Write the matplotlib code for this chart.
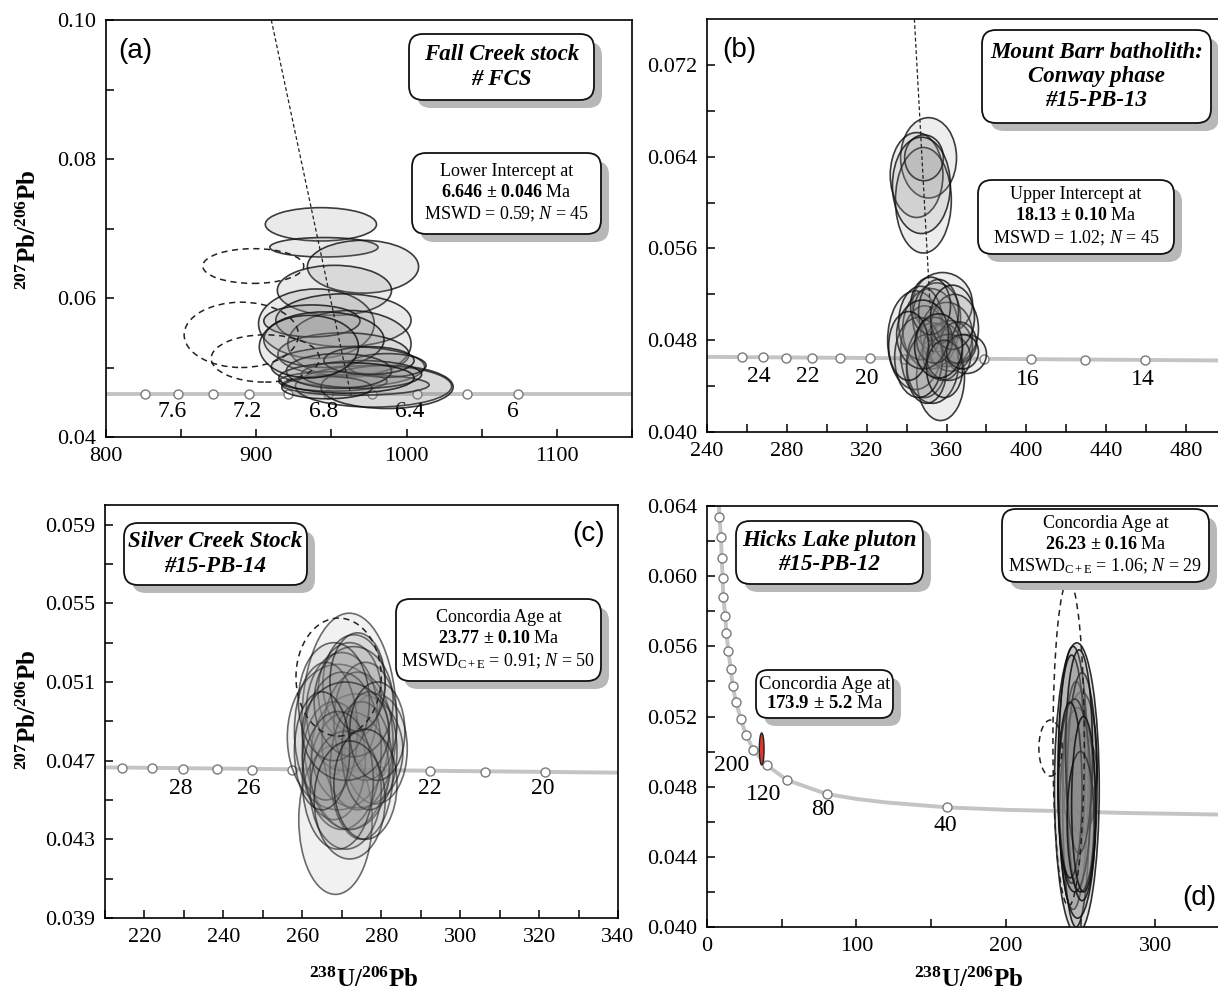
import matplotlib
matplotlib.use("Agg")
import matplotlib.pyplot as plt
from matplotlib.patches import Ellipse, FancyBboxPatch
from matplotlib.ticker import MultipleLocator, FixedLocator, FormatStrFormatter
from matplotlib.transforms import IdentityTransform

plt.rcParams['font.family'] = 'Liberation Serif'
plt.rcParams['mathtext.fontset'] = 'custom'
plt.rcParams['mathtext.rm'] = 'Liberation Serif'
plt.rcParams['mathtext.it'] = 'Liberation Serif:italic'
plt.rcParams['mathtext.bf'] = 'Liberation Serif:bold'

W, H = 1218, 994

# ---------------- (a) Fall Creek stock ----------------
a_conc_x = [800, 1150]
a_conc_y = [0.0462, 0.0462]
a_mark_x = [826, 848, 871, 895, 921, 948, 977, 1007, 1040, 1074]
a_mark_y = [0.0462, 0.0462, 0.0462, 0.0462, 0.0462, 0.0462, 0.0462, 0.0462, 0.0462, 0.0462]
a_age_txt = ["7.6", "7.2", "6.8", "6.4", "6"]
a_age_x = [844, 894, 945, 1002, 1071]
a_age_y = [0.0436, 0.0436, 0.0436, 0.0436, 0.0436]
a_ell_x = [943, 945, 971, 952, 940, 958, 962, 958, 961, 978, 966, 951, 987, 987, 947,
           937, 945, 970, 955, 975, 960, 935]
a_ell_y = [0.0706, 0.0673, 0.0645, 0.0611, 0.0563, 0.0568, 0.0534, 0.0519, 0.0501, 0.0473,
           0.0475, 0.0480, 0.0472, 0.0503, 0.0471, 0.0567, 0.0540, 0.0490, 0.0495, 0.0510,
           0.0485, 0.0530]
a_ell_sx = [37, 36, 37, 38, 38.5, 45, 41, 43.6, 51, 52, 49, 36, 44, 26, 30, 32, 40, 40, 35, 30, 45, 33]
a_ell_sy = [0.0024, 0.0014, 0.0038, 0.0036, 0.0050, 0.0038, 0.0048, 0.0031, 0.0029, 0.0030,
            0.0015, 0.0014, 0.0031, 0.0017, 0.0016, 0.0023, 0.0040, 0.0020, 0.0025, 0.0020,
            0.0022, 0.0045]
a_rej_x = [898, 890, 906]
a_rej_y = [0.0646, 0.0547, 0.0513]
a_rej_sx = [33.6, 38, 36]
a_rej_sy = [0.0025, 0.0047, 0.0034]
a_disc_x = [910, 963]
a_disc_y = [0.100, 0.046]

# ---------------- (b) Mount Barr batholith ----------------
b_conc_x = [240, 500]
b_conc_y = [0.04655, 0.04623]
b_mark_x = [257.5, 268.2, 279.8, 292.6, 306.6, 321.7, 338.8, 357.6, 378.7, 402.5, 429.3, 459.6]
b_mark_y = [0.04652, 0.04650, 0.04648, 0.04646, 0.04644, 0.04642, 0.04640, 0.04637,
            0.04635, 0.04632, 0.04629, 0.04626]
b_age_txt = ["24", "22", "20", "16", "14"]
b_age_x = [266, 290.5, 320, 400.6, 458.4]
b_age_y = [0.0448, 0.0448, 0.0447, 0.0446, 0.0446]
b_ell_x = [351, 345, 348.4, 348.7, 347.4,
           358, 357, 344.5, 370, 352, 349, 355, 360, 362, 347, 353, 358, 364, 350, 366,
           356, 346, 361, 354, 352, 363, 348, 359, 368, 341, 356]
b_ell_y = [0.0639, 0.0624, 0.0602, 0.0639, 0.0615,
           0.0512, 0.0448, 0.0480, 0.0468, 0.0490, 0.0470, 0.0500, 0.0485, 0.0475, 0.0495,
           0.0460, 0.0470, 0.0490, 0.0455, 0.0478, 0.0505, 0.0465, 0.0465, 0.0480, 0.0510,
           0.0500, 0.0485, 0.0455, 0.0470, 0.0475, 0.0475]
b_ell_sx = [14, 13.2, 14, 9.7, 14.5,
            15, 12, 14, 10, 14, 12, 12, 13, 11, 11, 13, 10, 12, 10, 9,
            10, 12, 11, 9, 10, 11, 13, 9, 8, 10, 12]
b_ell_sy = [0.0035, 0.0037, 0.0046, 0.0020, 0.0042,
            0.0027, 0.0038, 0.0043, 0.0017, 0.0035, 0.0040, 0.0030, 0.0028, 0.0022, 0.0032,
            0.0035, 0.0025, 0.0030, 0.0030, 0.0018, 0.0028, 0.0035, 0.0020, 0.0020, 0.0025,
            0.0028, 0.0030, 0.0025, 0.0015, 0.0030, 0.0028]
b_disc_x = [343.9, 353]
b_disc_y = [0.0760, 0.0470]

# ---------------- (c) Silver Creek Stock ----------------
c_conc_x = [210, 340]
c_conc_y = [0.04666, 0.04639]
c_mark_x = [214.4, 221.8, 229.7, 238.3, 247.3, 257.3, 268.1, 279.8, 292.3, 306.4, 321.6]
c_mark_y = [0.04663, 0.04661, 0.04659, 0.04657, 0.04655, 0.04653, 0.04651, 0.04648,
            0.04646, 0.04643, 0.04641]
c_age_txt = ["28", "26", "22", "20"]
c_age_x = [229.2, 246.5, 292.3, 321.0]
c_age_y = [0.0456, 0.0456, 0.0456, 0.0456]
c_ell_x = [271.9, 268.4, 278.6, 269.1, 273.9, 273.1,
           272, 270, 274, 268, 272, 276, 266, 270, 275, 271, 273, 268, 277, 269, 274,
           271, 265, 279, 272, 276]
c_ell_y = [0.0490, 0.0440, 0.0476, 0.0482, 0.0475, 0.0509,
           0.0505, 0.0495, 0.0480, 0.0470, 0.0465, 0.0490, 0.0485, 0.0475, 0.0465, 0.0455,
           0.0500, 0.0500, 0.0475, 0.0460, 0.0510, 0.0485, 0.0475, 0.0485, 0.0450, 0.0458]
c_ell_sx = [12, 9.3, 8, 12.9, 11.6, 7.9,
            8, 9, 9, 8, 10, 8, 8, 10, 8, 9, 10, 9, 7, 9, 7, 11, 7, 7, 9, 8]
c_ell_sy = [0.0055, 0.0038, 0.0028, 0.0037, 0.0029, 0.0025,
            0.0025, 0.0030, 0.0035, 0.0030, 0.0030, 0.0030, 0.0035, 0.0040, 0.0035, 0.0030,
            0.0028, 0.0030, 0.0030, 0.0035, 0.0025, 0.0025, 0.0030, 0.0025, 0.0030, 0.0028]
c_rej_x = [269.2]
c_rej_y = [0.05125]
c_rej_sx = [10.8]
c_rej_sy = [0.0030]

# ---------------- (d) Hicks Lake pluton ----------------
d_conc_x = [8.0, 8.3, 9.35, 9.87, 10.4, 10.9, 12.2, 13.0, 14.3, 15.9, 17.2, 19.4, 22.6, 26.1,
            31.0, 40.0, 53.4, 80.2, 100, 120, 160.5, 200, 230, 280, 350]
d_conc_y = [0.0640, 0.06339, 0.06221, 0.06105, 0.05992, 0.05883, 0.05775, 0.05675, 0.05573,
            0.05471, 0.05374, 0.05281, 0.05187, 0.05096, 0.05009, 0.04923, 0.04838, 0.04758,
            0.04730, 0.04710, 0.04682, 0.04668, 0.04662, 0.04650, 0.04640]
d_mark_x = [8.3, 9.35, 9.87, 10.4, 10.9, 12.2, 13.0, 14.3, 15.9, 17.2, 19.4, 22.6, 26.1,
            31.0, 40.0, 53.4, 80.2, 160.5]
d_mark_y = [0.06339, 0.06221, 0.06105, 0.05992, 0.05883, 0.05775, 0.05675, 0.05573, 0.05471,
            0.05374, 0.05281, 0.05187, 0.05096, 0.05009, 0.04923, 0.04838, 0.04758, 0.04682]
d_age_txt = ["200", "120", "80", "40"]
d_age_x = [16.5, 37.7, 77.7, 159.4]
d_age_y = [0.04923, 0.04758, 0.04667, 0.04581]
d_ell_x = [247.5, 249.4, 249.4, 250.6, 245, 247, 248, 244, 251, 246, 249, 243, 250, 252]
d_ell_y = [0.0479, 0.0488, 0.0471, 0.0493, 0.0485, 0.0470, 0.0465, 0.0490, 0.0480, 0.0475,
           0.0500, 0.0478, 0.0460, 0.0470]
d_ell_sx = [15, 11.7, 10.4, 10.4, 10, 9, 12, 9, 10, 11, 9, 8, 9, 8]
d_ell_sy = [0.0083, 0.0022, 0.0017, 0.0041, 0.0075, 0.0070, 0.0060, 0.0065, 0.0065, 0.0055,
            0.0058, 0.0050, 0.0040, 0.0050]
d_rej_x = [242, 229.9]
d_rej_y = [0.0505, 0.0502]
d_rej_sx = [10.5, 7.8]
d_rej_sy = [0.0093, 0.0016]
d_old_x, d_old_y, d_old_sx, d_old_sy = 36.6, 0.05015, 1.6, 0.00091

fig = plt.figure(figsize=(W / 100, H / 100), dpi=100)


def make_axes(left, top, right, bottom):
    return fig.add_axes([left / W, 1 - bottom / H, (right - left) / W, (bottom - top) / H])


def style_axes(ax, xlim, ylim, xmaj, xmin, yticks, yminor, yfmt):
    ax.set_xlim(*xlim)
    ax.set_ylim(*ylim)
    ax.xaxis.set_major_locator(MultipleLocator(xmaj))
    ax.xaxis.set_minor_locator(MultipleLocator(xmin))
    ax.yaxis.set_major_locator(FixedLocator(yticks))
    ax.yaxis.set_minor_locator(FixedLocator(yminor))
    ax.yaxis.set_major_formatter(FormatStrFormatter(yfmt))
    ax.tick_params(which='both', direction='in', length=6, width=1.1,
                   top=False, right=False, labelsize=16, pad=7)
    for s in ax.spines.values():
        s.set_linewidth(1.2)


def concordia(ax, cx, cy, mx, my, tx, ax_, ay):
    ax.plot(cx, cy, color='#c4c4c4', lw=2.8, zorder=1, solid_capstyle='butt')
    ax.plot(mx, my, 'o', ms=6.5, mfc='white', mec='#7a7a7a', mew=1.0, zorder=2)
    for t, x, y in zip(tx, ax_, ay):
        ax.text(x, y, t, ha='center', va='center', fontsize=17, zorder=2)


def ellipses(ax, xs, ys, sx, sy, fill_alpha=0.2, edge_alpha=0.8):
    for x, y, a, b in zip(xs, ys, sx, sy):
        ax.add_patch(Ellipse((x, y), 2 * a, 2 * b, fc=(0.55, 0.55, 0.55, fill_alpha),
                             ec=(0.05, 0.05, 0.05, edge_alpha), lw=1.2, zorder=3))


def rejected(ax, xs, ys, sx, sy):
    for x, y, a, b in zip(xs, ys, sx, sy):
        ax.add_patch(Ellipse((x, y), 2 * a, 2 * b, fill=False, ec='#222222',
                             lw=1.1, ls=(0, (4, 3)), zorder=4))


def label_box(x0, y0, x1, y1, text, **kw):
    r = min(14, (y1 - y0) / 4)
    shadow = FancyBboxPatch((x0 + 8, H - y1 - 8), x1 - x0, y1 - y0,
                            boxstyle=f"round,pad=0,rounding_size={r}",
                            transform=IdentityTransform(), fc='#b8b8b8', ec='none', zorder=5)
    box = FancyBboxPatch((x0, H - y1), x1 - x0, y1 - y0,
                         boxstyle=f"round,pad=0,rounding_size={r}",
                         transform=IdentityTransform(), fc='white', ec='#111111',
                         lw=1.3, zorder=6)
    fig.add_artist(shadow)
    fig.add_artist(box)
    fig.text((x0 + x1) / 2 / W, 1 - (y0 + y1) / 2 / H, text, ha='center', va='center',
             zorder=7, **kw)


title_kw = dict(fontsize=16.5, fontweight='bold', fontstyle='italic', linespacing=1.2)
stat_kw = dict(fontsize=13, linespacing=1.3)

# (a)
ax_a = make_axes(106, 20, 632, 437)
style_axes(ax_a, (800, 1150), (0.04, 0.10), 100, 50,
           [0.04, 0.06, 0.08, 0.10], [0.05, 0.07, 0.09], '%.2f')
concordia(ax_a, a_conc_x, a_conc_y, a_mark_x, a_mark_y, a_age_txt, a_age_x, a_age_y)
ellipses(ax_a, a_ell_x, a_ell_y, a_ell_sx, a_ell_sy, 0.18)
rejected(ax_a, a_rej_x, a_rej_y, a_rej_sx, a_rej_sy)
ax_a.plot(a_disc_x, a_disc_y, color='#222222', lw=0.9, ls=(0, (3, 2)), zorder=5)
ax_a.text(0.023, 0.925, "(a)", transform=ax_a.transAxes, family='Liberation Sans',
          fontsize=20, ha='left', va='center')

# (b)
ax_b = make_axes(707, 19, 1226, 432)
style_axes(ax_b, (240, 500), (0.040, 0.076), 40, 20,
           [0.040, 0.048, 0.056, 0.064, 0.072], [0.044, 0.052, 0.060, 0.068], '%.3f')
concordia(ax_b, b_conc_x, b_conc_y, b_mark_x, b_mark_y, b_age_txt, b_age_x, b_age_y)
ellipses(ax_b, b_ell_x, b_ell_y, b_ell_sx, b_ell_sy, 0.15)
ax_b.plot(b_disc_x, b_disc_y, color='#222222', lw=0.9, ls=(0, (3, 2)), zorder=5)
ax_b.text(0.029, 0.925, "(b)", transform=ax_b.transAxes, family='Liberation Sans',
          fontsize=20, ha='left', va='center')

# (c)
ax_c = make_axes(105, 505, 618, 918)
style_axes(ax_c, (210, 340), (0.039, 0.060), 20, 10,
           [0.039, 0.043, 0.047, 0.051, 0.055, 0.059],
           [0.041, 0.045, 0.049, 0.053, 0.057], '%.3f')
concordia(ax_c, c_conc_x, c_conc_y, c_mark_x, c_mark_y, c_age_txt, c_age_x, c_age_y)
ellipses(ax_c, c_ell_x, c_ell_y, c_ell_sx, c_ell_sy, 0.12, 0.6)
rejected(ax_c, c_rej_x, c_rej_y, c_rej_sx, c_rej_sy)
ax_c.text(0.975, 0.93, "(c)", transform=ax_c.transAxes, family='Liberation Sans',
          fontsize=20, ha='right', va='center')

# (d)
ax_d = make_axes(707, 506, 1230, 927)
style_axes(ax_d, (0, 350), (0.040, 0.064), 100, 50,
           [0.040, 0.044, 0.048, 0.052, 0.056, 0.060, 0.064],
           [0.042, 0.046, 0.050, 0.054, 0.058, 0.062], '%.3f')
concordia(ax_d, d_conc_x, d_conc_y, d_mark_x, d_mark_y, d_age_txt, d_age_x, d_age_y)
ellipses(ax_d, d_ell_x, d_ell_y, d_ell_sx, d_ell_sy, 0.28, 0.85)
rejected(ax_d, d_rej_x, d_rej_y, d_rej_sx, d_rej_sy)
ax_d.add_patch(Ellipse((d_old_x, d_old_y), 2 * d_old_sx, 2 * d_old_sy,
                       fc='#e0362c', ec='#222222', lw=1.0, zorder=4))
fig.text(1199 / W, 1 - 898 / H, "(d)", family='Liberation Sans', fontsize=20,
         ha='center', va='center')

# axis titles
ylab = r"$\mathbf{^{207}Pb/^{206}Pb}$"
xlab = r"$\mathbf{^{238}U/^{206}Pb}$"
fig.text(29 / W, 1 - 230 / H, ylab, rotation=90, ha='center', va='center', fontsize=18)
fig.text(29 / W, 1 - 710 / H, ylab, rotation=90, ha='center', va='center', fontsize=18)
fig.text(364 / W, 1 - 980 / H, xlab, ha='center', va='center', fontsize=18)
fig.text(969 / W, 1 - 980 / H, xlab, ha='center', va='center', fontsize=18)

# sample and age boxes
label_box(409, 34, 594, 100, "Fall Creek stock\n# FCS", **title_kw)
label_box(412, 153, 601, 234,
          "Lower Intercept at\n" r"$\mathbf{6.646\,\pm\,0.046}$ Ma" "\n"
          r"MSWD = 0.59; $N$ = 45", **stat_kw)
label_box(982, 30, 1211, 123, "Mount Barr batholith:\nConway phase\n#15-PB-13", **title_kw)
label_box(978, 180, 1174, 254,
          "Upper Intercept at\n" r"$\mathbf{18.13\,\pm\,0.10}$ Ma" "\n"
          r"MSWD = 1.02; $N$ = 45", **stat_kw)
label_box(124, 523, 307, 585, "Silver Creek Stock\n#15-PB-14", **title_kw)
label_box(396, 599, 601, 681,
          "Concordia Age at\n" r"$\mathbf{23.77\,\pm\,0.10}$ Ma" "\n"
          r"MSWD$_{\mathrm{C+E}}$ = 0.91; $N$ = 50", **stat_kw)
label_box(736, 521, 923, 584, "Hicks Lake pluton\n#15-PB-12", **title_kw)
label_box(1002, 509, 1209, 582,
          "Concordia Age at\n" r"$\mathbf{26.23\,\pm\,0.16}$ Ma" "\n"
          r"MSWD$_{\mathrm{C+E}}$ = 1.06; $N$ = 29", **stat_kw)
label_box(756, 670, 893, 718,
          "Concordia Age at\n" r"$\mathbf{173.9\,\pm\,5.2}$ Ma", fontsize=13.5, linespacing=1.2)

fig.savefig("out.png", dpi=100)
